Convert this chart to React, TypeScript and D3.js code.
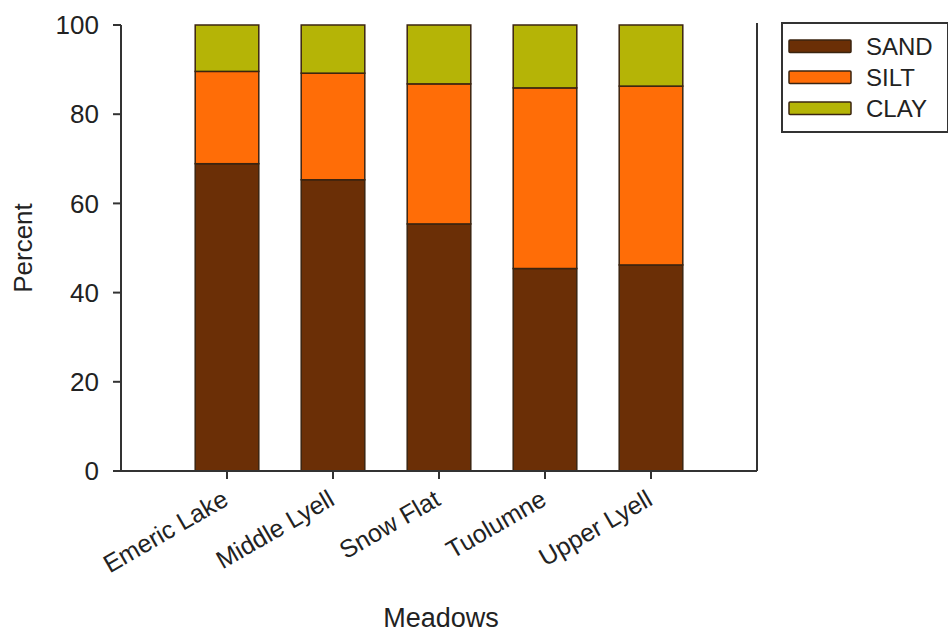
import React from "react";
import * as d3 from "d3";

const categories = ["Emeric Lake", "Middle Lyell", "Snow Flat", "Tuolumne", "Upper Lyell"];
const sand = [68.9, 65.3, 55.4, 45.4, 46.2];
const silt = [20.7, 23.9, 31.4, 40.5, 40.1];
const clay = [10.4, 10.8, 13.2, 14.1, 13.7];
const seriesNames = ["SAND", "SILT", "CLAY"];
const seriesColors = ["#6b2f06", "#ff6d07", "#b5b406"];
const yTicks = [0, 20, 40, 60, 80, 100];

const W = 948, H = 634;
const left = 121, right = 757, top = 25, bottom = 471;
const FONT = "'Liberation Sans', Arial, sans-serif";

export default function App() {
  const x = d3.scaleLinear().domain([0, categories.length + 1]).range([left, right]);
  const y = d3.scaleLinear().domain([0, 100]).range([bottom, top]);
  const data = categories.map((c, i) => ({ cat: c, SAND: sand[i], SILT: silt[i], CLAY: clay[i] }));
  const stacked = d3.stack<any>().keys(seriesNames)(data);
  const barW = 0.6 * (x(1) - x(0));

  return (
    <svg width={W} height={H} style={{ position: "absolute", left: 0, top: 0, background: "#fff" }} fontFamily={FONT}>
      {stacked.map((s, si) => (
        <g key={si}>
          {s.map((d, i) => (
            <rect key={i} x={x(i + 1) - barW / 2} y={y(d[1])} width={barW} height={y(d[0]) - y(d[1])}
              fill={seriesColors[si]} stroke="#3b2410" strokeWidth={1.5} />
          ))}
        </g>
      ))}
      <line x1={left} x2={left} y1={top} y2={bottom} stroke="#333" strokeWidth={2} />
      <line x1={left} x2={right} y1={bottom} y2={bottom} stroke="#333" strokeWidth={2} />
      <line x1={right} x2={right} y1={top - 2} y2={bottom} stroke="#333" strokeWidth={2} />
      {yTicks.map((t) => (
        <g key={t}>
          <line x1={left - 8} x2={left} y1={y(t)} y2={y(t)} stroke="#333" strokeWidth={2} />
          <text x={left - 22} y={y(t)} dy="0.35em" textAnchor="end" fontSize={26} fill="#222">{t}</text>
        </g>
      ))}
      {categories.map((c, i) => (
        <g key={c}>
          <line x1={x(i + 1)} x2={x(i + 1)} y1={bottom} y2={bottom + 8} stroke="#333" strokeWidth={2} />
          <text transform={`translate(${x(i + 1) + 3},${bottom + 33}) rotate(-30)`} textAnchor="end" fontSize={25} fill="#222">{c}</text>
        </g>
      ))}
      <text transform={`translate(32,${(top + bottom) / 2}) rotate(-90)`} textAnchor="middle" fontSize={26} fill="#222">Percent</text>
      <text x={(left + right) / 2 + 2} y={627} textAnchor="middle" fontSize={27} fill="#222">Meadows</text>
      <rect x={782} y={23} width={166} height={109} fill="#fff" stroke="#333" strokeWidth={2} />
      {seriesNames.map((n, i) => (
        <g key={n}>
          <rect x={789} y={40 + i * 31} width={62} height={12.5} fill={seriesColors[i]} stroke="#3b2410" strokeWidth={1.5} rx={1} />
          <text x={866} y={54.5 + i * 31} fontSize={24} fill="#222">{n}</text>
        </g>
      ))}
    </svg>
  );
}
